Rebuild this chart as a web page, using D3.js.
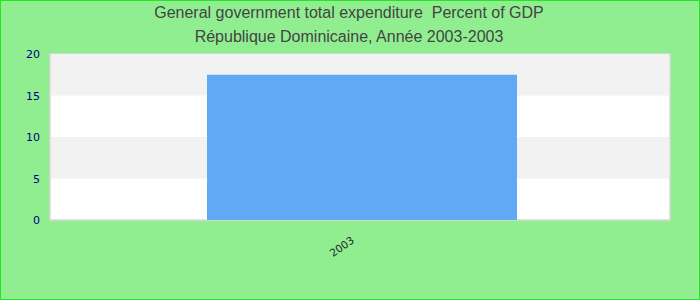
<!DOCTYPE html>
<html><head><meta charset="utf-8">
<script src="https://cdn.jsdelivr.net/npm/d3@7"></script>
<style>html,body{margin:0;padding:0;background:#90EE90;}svg{display:block;}</style>
</head><body>
<script>
const categories = ["2003"];
const values = [17.5];
const yTicks = [0, 5, 10, 15, 20];
const titleLines = ["General government total expenditure  Percent of GDP", "République Dominicaine, Année 2003-2003"];

const W = 700, H = 300;
const m = {left: 50, right: 30, top: 54, bottom: 80};
const svg = d3.select("body").append("svg").attr("width", W).attr("height", H);
svg.append("rect").attr("x", 0.5).attr("y", 0.5).attr("width", W - 1).attr("height", H - 1)
  .attr("fill", "#90EE90").attr("stroke", "#22e822").attr("stroke-width", 1);

const x = d3.scaleBand().domain(categories).range([m.left + 2, W - m.right + 2]).paddingInner(0.5).paddingOuter(0.25);
const y = d3.scaleLinear().domain([0, 20]).range([H - m.bottom, m.top]);

// plot background
svg.append("rect").attr("x", m.left).attr("y", m.top).attr("width", W - m.left - m.right)
  .attr("height", H - m.top - m.bottom).attr("fill", "#ffffff").attr("stroke", "#d8d8d8").attr("stroke-width", 1.5);
// bands
for (let i = 0; i < yTicks.length - 1; i++) {
  if (i % 2 === 1) {
    svg.append("rect").attr("x", m.left + 1).attr("width", W - m.left - m.right - 2)
      .attr("y", y(yTicks[i + 1])).attr("height", y(yTicks[i]) - y(yTicks[i + 1]))
      .attr("fill", "#f2f2f2");
  }
}
svg.selectAll(".bar").data(values).join("rect").attr("class", "bar")
  .attr("x", (d, i) => x(categories[i])).attr("width", x.bandwidth())
  .attr("y", d => y(d)).attr("height", d => y(0) - y(d)).attr("fill", "#61a8f5");

const yAxis = svg.append("g").attr("transform", `translate(${m.left - 10},0)`)
  .call(d3.axisLeft(y).tickValues(yTicks).tickSize(0).tickPadding(0));
yAxis.select(".domain").remove();
yAxis.selectAll("text").attr("fill", "#00008b").style("font-family", "DejaVu Sans, sans-serif").style("font-size", "11px");

const xAxis = svg.append("g").attr("transform", `translate(0,${H - m.bottom})`)
  .call(d3.axisBottom(x).tickSize(0).tickPadding(0));
xAxis.select(".domain").remove();
xAxis.selectAll("text").attr("fill", "#222").style("font-family", "DejaVu Sans, sans-serif").style("font-size", "10.5px")
  .attr("text-anchor", "end").attr("dy", 0).attr("y", 0)
  .attr("transform", "translate(-7,22) rotate(-35)");

svg.selectAll(".title").data(titleLines).join("text").attr("class", "title")
  .attr("x", 349).attr("y", (d, i) => 18 + i * 24).attr("text-anchor", "middle")
  .attr("fill", "#444").style("font-family", "Liberation Sans, Arial, sans-serif").style("font-size", "16px")
  .style("white-space", "pre").attr("xml:space", "preserve")
  .text(d => d);
</script>
</body></html>
